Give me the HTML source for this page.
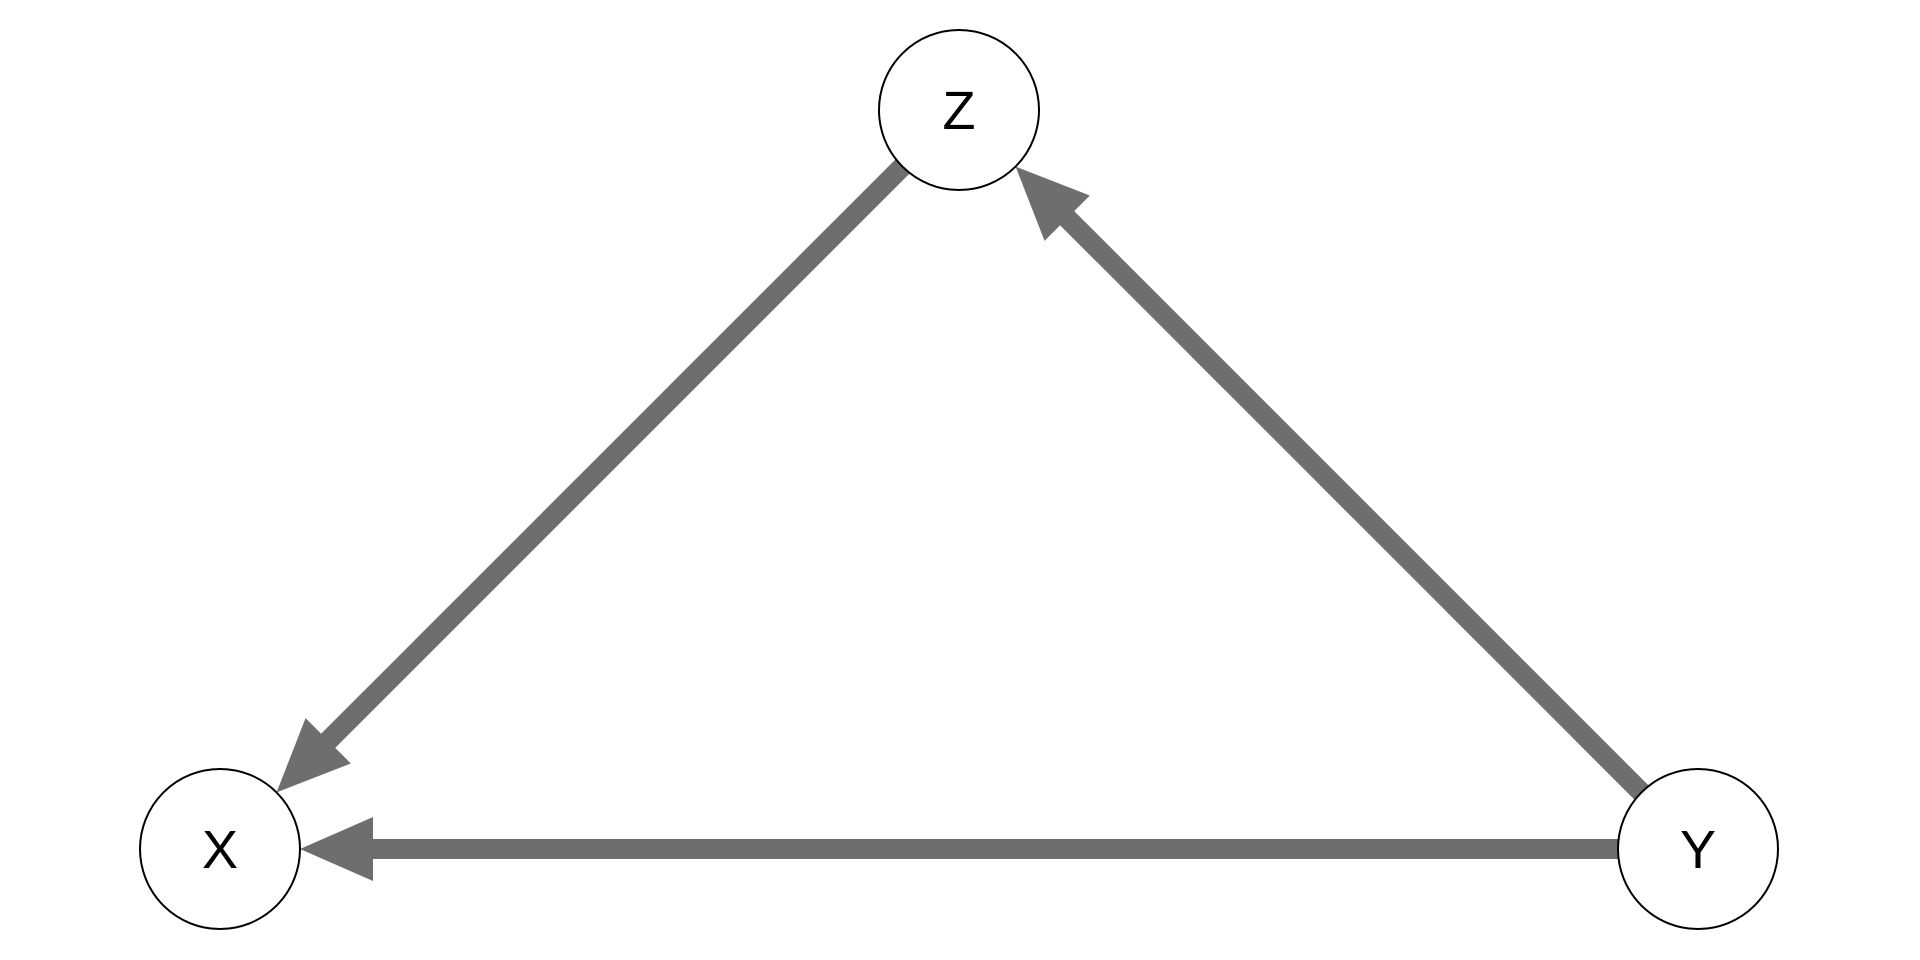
<!DOCTYPE html>
<html><head><meta charset="utf-8"><style>
html,body{margin:0;padding:0;background:#fff;}
svg{display:block;}
text{font-family:"Liberation Sans",sans-serif;}
</style></head><body>
<svg id="g" width="1920" height="960" xmlns="http://www.w3.org/2000/svg"></svg>
<script>
const nodeNames = ["Z","X","Y"];
const nodeX = [959, 220, 1698];
const nodeY = [110, 849, 849];
const edgeFrom = ["Z","Y","Y"];
const edgeTo = ["X","Z","X"];
const R = 80, HL = 73, HW = 32, LW = 20, COL = "#6e6e6e";
const svg = document.getElementById('g');
const NS = "http://www.w3.org/2000/svg";
function mk(t, a){const e=document.createElementNS(NS,t);for(const k in a)e.setAttribute(k,a[k]);return e;}
const idx = n => nodeNames.indexOf(n);
edgeFrom.forEach((f,i)=>{
  const a=idx(f), b=idx(edgeTo[i]);
  const x1=nodeX[a], y1=nodeY[a], x2=nodeX[b], y2=nodeY[b];
  const d=Math.hypot(x2-x1,y2-y1), ux=(x2-x1)/d, uy=(y2-y1)/d;
  const sx=x1+ux*R, sy=y1+uy*R, tx=x2-ux*R, ty=y2-uy*R;
  const bx=tx-ux*HL, by=ty-uy*HL;
  const g=mk('g',{});
  
  
  const ln=mk('line',{x1:sx,y1:sy,x2:bx+ux*2,y2:by+uy*2,stroke:COL,'stroke-width':LW});
  
  
  const px=-uy, py=ux;
  const hd=mk('polygon',{points:`${tx},${ty} ${bx+px*HW},${by+py*HW} ${bx-px*HW},${by-py*HW}`,fill:COL});
  
  
  g.appendChild(ln);g.appendChild(hd);svg.appendChild(g);
});
nodeNames.forEach((n,i)=>{
  const g=mk('g',{});
  
  
  const c=mk('circle',{cx:nodeX[i],cy:nodeY[i],r:R,fill:'#fff',stroke:'#000','stroke-width':2});
  
  
  const t=mk('text',{x:nodeX[i],y:nodeY[i]+19,'text-anchor':'middle','font-size':54,fill:'#000'});
  
  
  t.textContent=n;
  g.appendChild(c);g.appendChild(t);svg.appendChild(g);
});
</script>
</body></html>
